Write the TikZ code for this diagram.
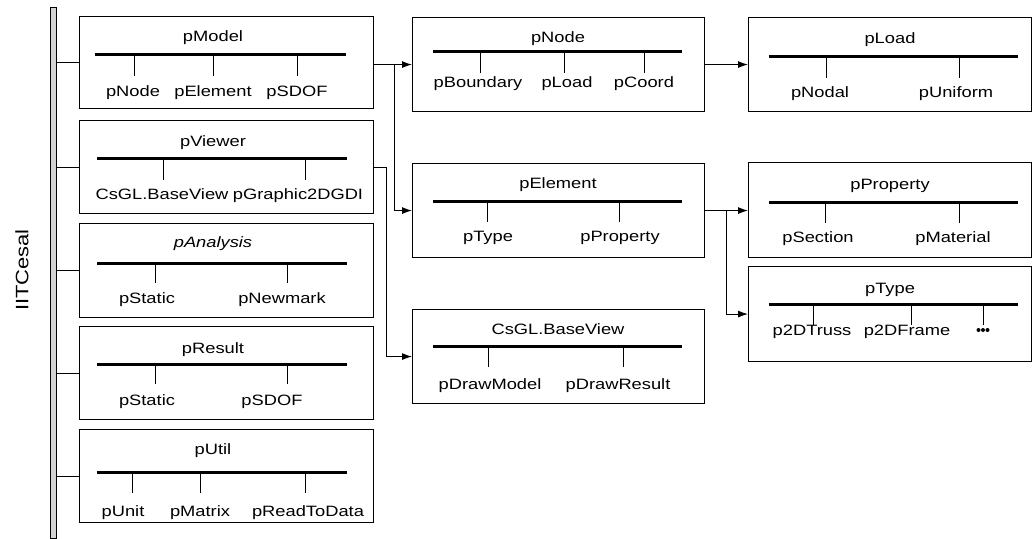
\documentclass[tikz,border=0pt]{standalone}
\usepackage{fontspec}
\setmainfont{Liberation Sans}[FakeStretch=1.22]
\usetikzlibrary{arrows.meta,calc}
\begin{document}
\begin{tikzpicture}[x=1pt,y=-1pt,
  pkgbox/.style={draw, line width=1.1pt, inner sep=0pt, anchor=north west},
  hbar/.style={line width=3pt},
  tick/.style={line width=0.9pt},
  lbl/.style={font=\fontsize{15}{15}\selectfont, anchor=base, inner sep=0pt},
  link/.style={line width=1pt},
  arr/.style={line width=1pt, -{Latex[length=10pt,width=7pt]}},
  rail/.style={draw, line width=0.8pt, fill=gray!35, inner sep=0pt, anchor=north west}]
\useasboundingbox (0,0) rectangle (1033,538);

% package box: name, left, top, right, bottom
\newcommand\pkgnode[5]{\node[pkgbox, minimum width=#4-#2, minimum height=#5-#3] (#1) at (#2,#3) {};}
% sub-package: tick x, bar y, tick end y, label x, label base y, text
\newcommand\subpkg[6]{\draw[tick] (#1,#2) -- (#1,#3); \node[lbl] at (#4,#5) {#6};}

% root rail and its label
\node[rail, minimum width=6pt, minimum height=531pt] (rail) at (50,7) {};
\node[font=\fontsize{18}{18}\selectfont, rotate=90] (root) at (22,270) {IITCesal};

% ---- left column ----
\pkgnode{pModel}{79}{16}{373}{108}
\node[lbl] (tModel) at (213,41) {pModel};
\draw[hbar] (95,54) -- (346,54);
\subpkg{134}{54}{76}{133}{96}{pNode}
\subpkg{213}{54}{76}{213}{96}{pElement}
\subpkg{297}{54}{76}{297}{96}{pSDOF}

\pkgnode{pViewer}{79}{120}{373}{213}
\node[lbl] (tViewer) at (213,146) {pViewer};
\draw[hbar] (97,158) -- (347,158);
\subpkg{163}{158}{180}{162}{199}{CsGL.BaseView}
\subpkg{305}{158}{180}{298}{199}{pGraphic2DGDI}

\pkgnode{pAnalysis}{79}{223}{373}{317}
\node[lbl, font=\fontsize{15}{15}\selectfont\itshape] (tAnalysis) at (213,247) {pAnalysis};
\draw[hbar] (97,263) -- (347,263);
\subpkg{155}{263}{283}{147}{303}{pStatic}
\subpkg{287}{263}{283}{282}{303}{pNewmark}

\pkgnode{pResult}{79}{326}{373}{419}
\node[lbl] (tResult) at (213,353) {pResult};
\draw[hbar] (97,364) -- (347,364);
\subpkg{155}{364}{384}{147}{405}{pStatic}
\subpkg{287}{364}{384}{272}{405}{pSDOF}

\pkgnode{pUtil}{79}{429}{373}{522}
\node[lbl] (tUtil) at (213,454) {pUtil};
\draw[hbar] (97,472) -- (347,472);
\subpkg{132}{472}{493}{123}{516}{pUnit}
\subpkg{200}{472}{493}{200}{516}{pMatrix}
\subpkg{305}{472}{493}{308}{516}{pReadToData}

% ---- middle column ----
\pkgnode{pNode}{412}{17}{704}{111}
\node[lbl] (tNode) at (558,42) {pNode};
\draw[hbar] (433,51) -- (682,51);
\subpkg{480}{51}{73}{478}{87}{pBoundary}
\subpkg{564}{51}{73}{567}{87}{pLoad}
\subpkg{644}{51}{73}{644}{87}{pCoord}

\pkgnode{pElement}{412}{163}{704}{257}
\node[lbl] (tElement) at (558,188) {pElement};
\draw[hbar] (433,201) -- (682,201);
\subpkg{487}{201}{222}{488}{241}{pType}
\subpkg{619}{201}{222}{620}{241}{pProperty}

\pkgnode{pBase}{412}{309}{704}{403}
\node[lbl] (tBase) at (558,334) {CsGL.BaseView};
\draw[hbar] (433,346) -- (682,346);
\subpkg{488}{346}{367}{490}{389}{pDrawModel}
\subpkg{623}{346}{367}{618}{389}{pDrawResult}

% ---- right column ----
\pkgnode{pLoad}{748}{17}{1031}{111}
\node[lbl] (tLoad) at (890,43) {pLoad};
\draw[hbar] (769,56) -- (1018,56);
\subpkg{826}{56}{78}{820}{97}{pNodal}
\subpkg{959}{56}{78}{956}{97}{pUniform}

\pkgnode{pProperty}{748}{162}{1031}{257}
\node[lbl] (tProperty) at (890,189) {pProperty};
\draw[hbar] (769,202) -- (1018,202);
\subpkg{825}{202}{223}{818}{242}{pSection}
\subpkg{959}{202}{223}{953}{242}{pMaterial}

\pkgnode{pType}{748}{266}{1031}{361}
\node[lbl] (tType) at (890,293) {pType};
\draw[hbar] (769,304) -- (1018,304);
\subpkg{813}{304}{325}{812}{335}{p2DTruss}
\subpkg{911}{304}{325}{907}{335}{p2DFrame}
\draw[tick] (983,304) -- (983,325);
\foreach \dx in {-4.5,0,4.5} \fill (983+\dx,330) circle (2pt);

% ---- rail to top-level packages ----
\foreach \p in {pModel,pViewer,pAnalysis,pResult,pUtil}
  \draw[link] (rail.east |- \p.west) -- (\p.west);

% ---- dependencies ----
\draw[arr] (pModel.east |- pNode.west) -- (pNode.west);
\coordinate (j1) at ($(pModel.east |- pNode.west)+(20,0)$);
\draw[arr] (j1) |- (pElement.west);
\draw[arr] (pViewer.east) -- ++(12,0) |- (pBase.west);
\draw[arr] (pNode.east) -- (pLoad.west |- pNode.east);
\draw[arr] (pElement.east) -- (pProperty.west |- pElement.east);
\coordinate (j2) at ($(pElement.east)+(21,0)$);
\draw[arr] (j2) |- (pType.west);
\end{tikzpicture}
\end{document}
